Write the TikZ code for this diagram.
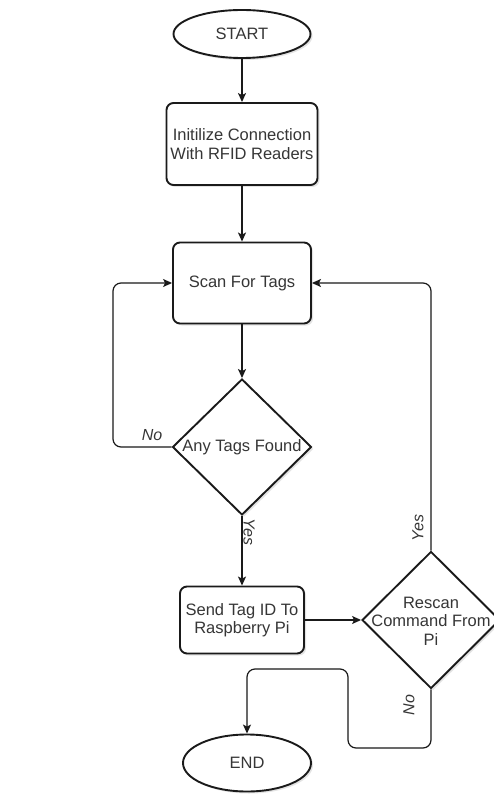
\documentclass[tikz,border=0pt]{standalone}
\usepackage{fontspec}
\setmainfont{Liberation Sans}
\usetikzlibrary{shapes.geometric,arrows.meta,shadows}
\definecolor{ink}{HTML}{1A1A1A}
\definecolor{txt}{HTML}{363636}
\tikzset{
  x=1pt,y=-1pt,
  shade/.style={drop shadow={opacity=0.22,shadow xshift=2pt,shadow yshift=-2pt}},
  term/.style={ellipse,draw=ink,line width=1.9pt,fill=white,shade,inner sep=0pt,
     font=\fontsize{16.5}{18.5}\selectfont,text=txt},
  proc/.style={rectangle,rounded corners=7pt,draw=ink,line width=1.9pt,fill=white,shade,
     align=center,inner sep=0pt,font=\fontsize{16.5}{18.5}\selectfont,text=txt},
  dec/.style={diamond,draw=ink,line width=1.9pt,fill=white,shade,inner sep=0pt},
  dectext/.style={align=center,font=\fontsize{16.5}{18.5}\selectfont,text=txt,inner sep=0pt},
  conn/.style={draw=ink,line width=1.2pt,rounded corners=8pt,-{Stealth[length=9pt,width=8pt,inset=2pt]}},
  lab/.style={font=\fontsize{16}{18}\selectfont\itshape,text=txt,inner sep=0pt}
}
\begin{document}
\begin{tikzpicture}
\useasboundingbox (0,0) rectangle (494,794);
\fill[white] (0,0) rectangle (494,794);

\node[term,minimum width=137pt,minimum height=48pt] (start) at (242,34) {START};
\node[proc,minimum width=151pt,minimum height=82pt] (init) at (242,144) {Initilize Connection\\With RFID Readers};
\node[proc,minimum width=138pt,minimum height=81pt] (scan) at (242,283) {Scan For Tags};
\node[dec,minimum width=139pt,minimum height=136pt] (any) at (242,447) {};
\node[dectext] (anyt) at (242,447) {Any Tags Found};
\node[proc,minimum width=124pt,minimum height=67pt] (send) at (242,620) {Send Tag ID To\\Raspberry Pi};
\node[dec,minimum width=138pt,minimum height=137pt] (rescan) at (431,620) {};
\node[dectext] (rescant) at (431,621) {Rescan\\Command From\\Pi};
\node[term,minimum width=128pt,minimum height=57pt] (end) at (247,763) {END};

\coordinate (lx) at (113,0);
\coordinate (b1) at (348,748);
\coordinate (b2) at (348,669);

\draw[conn] (start) -- (init);
\draw[conn] (init) -- (scan);
\draw[conn] (scan) -- (any);
\draw[conn] (any.west) -- (any.west -| lx) |- (scan.west);
\draw[conn] (any.south) -- (send.north);
\draw[conn] (send.east) -- (rescan.west);
\draw[conn] (rescan.north) |- (scan.east);
\draw[conn] (rescan.south) |- (b1) -- (b2) -| (end.north);

\node[lab] (no1) at (152,435) {No};
\node[lab,rotate=-90] (yes1) at (249,532) {Yes};
\node[lab,rotate=90] (yes2) at (418,528) {Yes};
\node[lab,rotate=90] (no2) at (409,705) {No};
\end{tikzpicture}
\end{document}
